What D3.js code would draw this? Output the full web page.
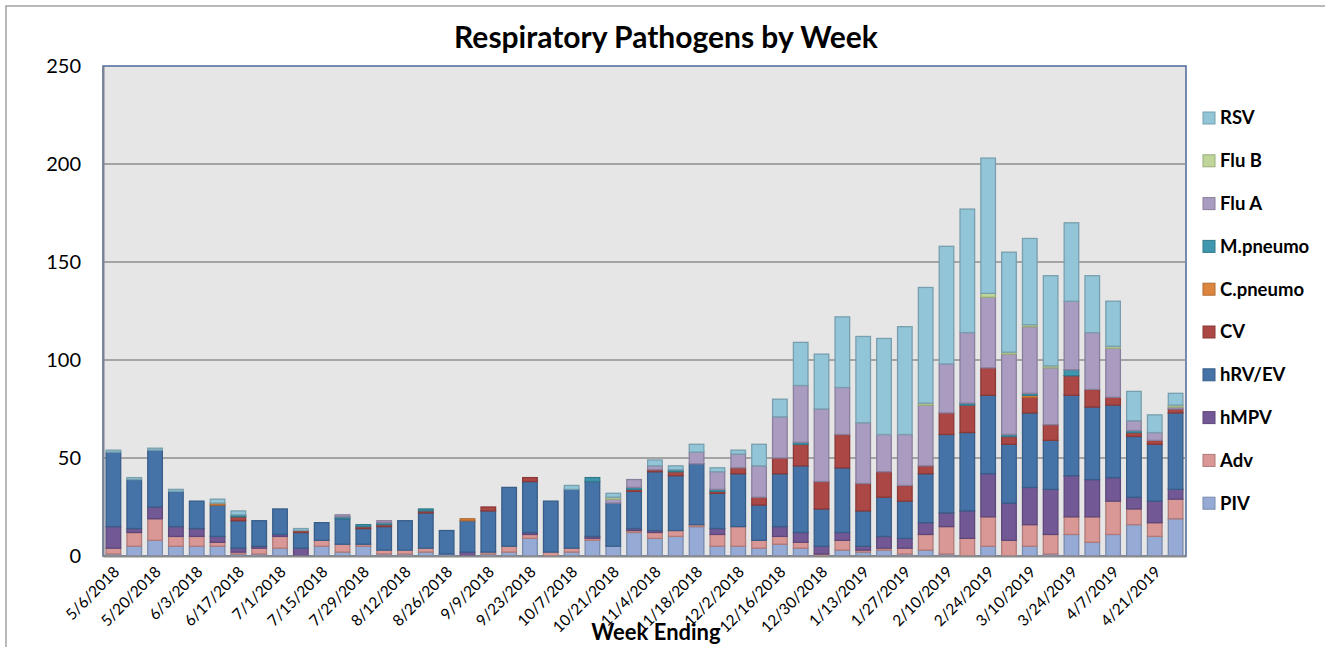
<!DOCTYPE html>
<html>
<head>
<meta charset="utf-8">
<script src="https://cdn.jsdelivr.net/npm/d3@7"></script>
<style>
  body { margin: 0; background: #fff; }
  svg { display: block; font-family: Lato, "Open Sans", sans-serif; }
</style>
</head>
<body>
<div id="chart"></div>
<script>
// week ending dates (one bar each)
var weeks = ["5/6/2018","5/13/2018","5/20/2018","5/27/2018","6/3/2018","6/10/2018","6/17/2018","6/24/2018",
  "7/1/2018","7/8/2018","7/15/2018","7/22/2018","7/29/2018","8/5/2018","8/12/2018","8/19/2018","8/26/2018",
  "9/2/2018","9/9/2018","9/16/2018","9/23/2018","9/30/2018","10/7/2018","10/14/2018","10/21/2018","10/28/2018",
  "11/4/2018","11/11/2018","11/18/2018","11/25/2018","12/2/2018","12/9/2018","12/16/2018","12/23/2018","12/30/2018",
  "1/6/2019","1/13/2019","1/20/2019","1/27/2019","2/3/2019","2/10/2019","2/17/2019","2/24/2019","3/3/2019",
  "3/10/2019","3/17/2019","3/24/2019","3/31/2019","4/7/2019","4/14/2019","4/21/2019","4/28/2019"];

// counts per pathogen
var piv     = [1,5,8,5,5,5,1,1,4,0,5,2,5,1,1,2,1,0,1,2,9,0,2,8,5,12,9,10,15,5,5,4,6,4,0,3,2,3,1,3,1,0,5,0,5,1,11,7,11,16,10,19];
var adv     = [3,7,11,5,5,2,1,3,6,0,3,4,1,2,2,2,0,0,1,3,2,2,2,1,0,1,3,3,1,6,10,4,4,3,1,5,1,1,3,8,14,9,15,8,11,10,9,13,17,8,7,10];
var hmpv    = [11,2,6,5,4,3,2,1,1,4,0,0,0,0,0,0,0,2,0,0,1,0,0,1,0,1,1,0,0,3,0,0,5,5,4,4,2,6,5,6,7,14,22,19,19,23,21,19,12,6,11,5];
var hrv     = [38,25,29,18,14,16,14,13,13,8,9,13,8,12,15,18,12,16,21,30,26,26,30,28,22,19,30,28,31,18,27,18,27,34,19,33,18,20,19,25,40,40,40,30,38,25,41,37,37,31,29,39];
var cv      = [0,0,0,0,0,0,2,0,0,1,0,0,1,1,0,1,0,0,2,0,2,0,0,0,0,1,1,2,0,1,3,4,8,11,14,17,14,13,8,4,11,14,14,4,8,8,10,9,4,2,2,2];
var cpneumo = [0,0,0,0,0,1,0,0,0,0,0,0,0,0,0,0,0,1,0,0,0,0,0,0,0,0,0,0,0,0,0,0,0,0,0,0,0,0,0,0,0,0,0,0,1,0,0,0,0,0,0,0];
var mpneumo = [0,0,0,0,0,0,1,0,0,0,0,1,1,1,0,1,0,0,0,0,0,0,0,2,0,1,0,1,0,1,0,0,0,1,0,0,0,0,0,0,0,1,0,1,1,0,3,0,0,1,0,0];
var fluA    = [0,0,0,0,0,0,0,0,0,0,0,1,0,1,0,0,0,0,0,0,0,0,0,0,2,4,2,0,6,9,7,16,21,29,37,24,31,19,26,31,25,36,36,41,34,29,35,29,25,5,4,1];
var fluB    = [0,0,0,0,0,0,0,0,0,0,0,0,0,0,0,0,0,0,0,0,0,0,0,0,1,0,0,0,0,0,0,0,0,0,0,0,0,0,0,1,0,0,2,1,1,1,0,0,1,0,0,1];
var rsv     = [1,1,1,1,0,2,2,0,0,1,0,0,0,0,0,0,0,0,0,0,0,0,2,0,2,0,3,2,4,2,2,11,9,22,28,36,44,49,55,59,60,63,69,51,44,46,40,29,23,15,9,6];

var seriesNames  = ["PIV", "Adv", "hMPV", "hRV/EV", "CV", "C.pneumo", "M.pneumo", "Flu A", "Flu B", "RSV"];
var seriesValues = [piv, adv, hmpv, hrv, cv, cpneumo, mpneumo, fluA, fluB, rsv];
var seriesColors = ["#95abd5", "#d99795", "#735896", "#4573a8", "#ab4744", "#dc853e", "#3e97ae", "#aa9cc0", "#bfd59a", "#93c5d8"];

var yTicks = [0, 50, 100, 150, 200, 250];

var svgWidth = 1325;
var svgHeight = 647;
var margin = { top: 66, right: 139, bottom: 91, left: 103 };
var width = svgWidth - margin.left - margin.right;
var height = svgHeight - margin.top - margin.bottom;

// one row per week for d3.stack
var table = weeks.map(function(w, i) {
  var row = { week: w };
  seriesNames.forEach(function(name, s) { row[name] = seriesValues[s][i]; });
  return row;
});

var stacked = d3.stack().keys(seriesNames)(table);

var svg = d3.select("#chart").append("svg")
  .attr("width", svgWidth)
  .attr("height", svgHeight);

// outer chart border
svg.append("rect")
  .attr("x", 6).attr("y", 6)
  .attr("width", 1340).attr("height", 680)
  .attr("fill", "#fff")
  .attr("stroke", "#a3a3a3")
  .attr("stroke-width", 1.5);

// title
svg.append("text")
  .attr("x", 666).attr("y", 48)
  .attr("text-anchor", "middle")
  .style("font-size", "30px")
  .style("font-weight", "bold")
  .text("Respiratory Pathogens by Week");

var g = svg.append("g")
  .attr("transform", `translate(${margin.left}, ${margin.top})`);

var xScale = d3.scaleBand()
  .domain(weeks)
  .range([0, width])
  .paddingInner(0.3)
  .paddingOuter(0.15);

var yScale = d3.scaleLinear()
  .domain([0, 250])
  .range([height, 0]);

var colorScale = d3.scaleOrdinal().domain(seriesNames).range(seriesColors);

// plot background
g.append("rect")
  .attr("width", width).attr("height", height)
  .attr("fill", "#e6e6e6")
  .attr("stroke", "#4a6a9a")
  .attr("stroke-width", 1.5);

// gridlines
g.append("g")
  .selectAll("line")
  .data(yTicks.filter(function(t) { return t > 0 && t < 250; }))
  .enter().append("line")
  .attr("x1", 0).attr("x2", width)
  .attr("y1", d => yScale(d)).attr("y2", d => yScale(d))
  .attr("stroke", "#8e8e8e")
  .attr("stroke-width", 1.3);

// y axis
var yAxis = d3.axisLeft(yScale).tickValues(yTicks).tickSize(0).tickPadding(22);
var yAxisGroup = g.append("g").call(yAxis);
yAxisGroup.select(".domain").attr("stroke", "#7d8293").attr("stroke-width", 2);
yAxisGroup.selectAll("text")
  .style("font-size", "20px")
  .style("font-family", "Lato, 'Open Sans', sans-serif")
  .attr("fill", "#000");

// stacked bars
var layers = g.append("g")
  .selectAll("g")
  .data(stacked)
  .enter().append("g")
  .attr("fill", d => colorScale(d.key))
  .attr("stroke", d => d3.color(colorScale(d.key)).darker(0.6))
  .attr("stroke-width", 1.3);

layers.selectAll("rect")
  .data(d => d.filter(function(p) { return p[1] - p[0] > 0; }))
  .enter().append("rect")
  .attr("x", d => xScale(d.data.week))
  .attr("y", d => yScale(d[1]))
  .attr("width", xScale.bandwidth())
  .attr("height", d => yScale(d[0]) - yScale(d[1]));

// x axis (every other week labelled)
var xAxis = d3.axisBottom(xScale)
  .tickValues(weeks.filter(function(w, i) { return i % 2 === 0; }))
  .tickSize(0);
var xAxisGroup = g.append("g")
  .attr("transform", `translate(0, ${height})`)
  .call(xAxis);
xAxisGroup.select(".domain").attr("stroke", "#8a8a8a").attr("stroke-width", 2);
xAxisGroup.selectAll("text")
  .attr("y", 0).attr("dy", "0.35em")
  .attr("transform", "translate(3, 13) rotate(-45)")
  .attr("text-anchor", "end")
  .attr("fill", "#000")
  .style("font-size", "15.5px")
  .style("font-family", "Lato, 'Open Sans', sans-serif");

// x axis title
svg.append("text")
  .attr("x", 656).attr("y", 640)
  .attr("text-anchor", "middle")
  .style("font-size", "22px")
  .style("font-weight", "bold")
  .text("Week Ending");

// legend, RSV on top
var legend = svg.append("g")
  .selectAll("g")
  .data(seriesNames.slice().reverse())
  .enter().append("g")
  .attr("transform", (d, i) => `translate(1203, ${118 + i * 42.8})`);

legend.append("rect")
  .attr("x", 0).attr("y", -6)
  .attr("width", 12).attr("height", 12)
  .attr("fill", d => colorScale(d))
  .attr("stroke", d => d3.color(colorScale(d)).darker(0.6))
  .attr("stroke-width", 1);

legend.append("text")
  .attr("x", 17).attr("y", 0)
  .attr("dy", "0.35em")
  .style("font-size", "18.5px")
  .style("font-weight", "bold")
  .text(d => d);
</script>
</body>
</html>
